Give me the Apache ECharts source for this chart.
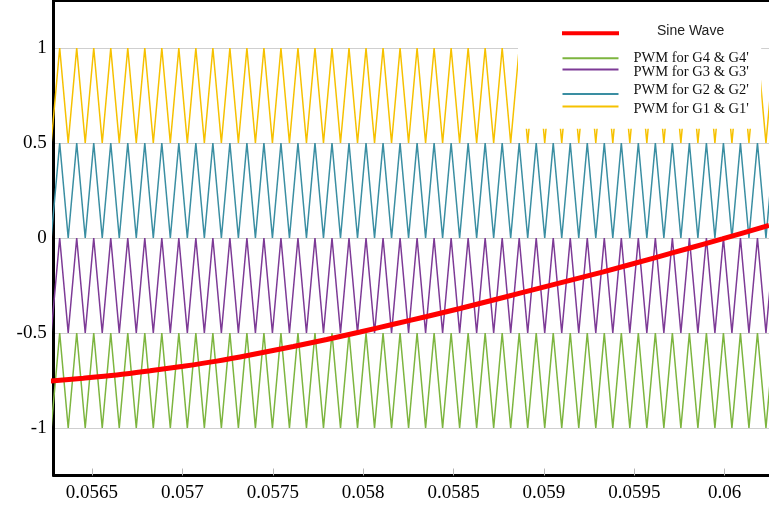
<!DOCTYPE html>
<html>
<head>
<meta charset="utf-8">
<script src="https://cdn.jsdelivr.net/npm/echarts@6/dist/echarts.min.js"></script>
<style>
  html, body { margin: 0; padding: 0; background: #fff; }
  #chart { width: 769px; height: 506px; }
</style>
</head>
<body>
<div id="chart"></div>
<script>
// Time axis window (s)
const timeMin = 0.05628814;
const timeMax = 0.06024489;

// Triangular carrier vertex times (s): even index = trough, odd index = peak
const carrierTimes = [
  0.05627425, 0.05632132, 0.05636839, 0.05641546, 0.05646253, 0.05650960,
  0.05655667, 0.05660374, 0.05665081, 0.05669788, 0.05674495, 0.05679202,
  0.05683909, 0.05688616, 0.05693323, 0.05698030, 0.05702737, 0.05707444,
  0.05712151, 0.05716858, 0.05721565, 0.05726272, 0.05730979, 0.05735686,
  0.05740393, 0.05745100, 0.05749807, 0.05754514, 0.05759221, 0.05763928,
  0.05768635, 0.05773342, 0.05778049, 0.05782756, 0.05787463, 0.05792170,
  0.05796877, 0.05801584, 0.05806291, 0.05810998, 0.05815705, 0.05820412,
  0.05825119, 0.05829826, 0.05834533, 0.05839240, 0.05843947, 0.05848654,
  0.05853361, 0.05858068, 0.05862775, 0.05867482, 0.05872189, 0.05876896,
  0.05881603, 0.05886310, 0.05891017, 0.05895724, 0.05900431, 0.05905138,
  0.05909845, 0.05914552, 0.05919259, 0.05923966, 0.05928673, 0.05933380,
  0.05938087, 0.05942794, 0.05947501, 0.05952208, 0.05956915, 0.05961622,
  0.05966329, 0.05971036, 0.05975743, 0.05980450, 0.05985157, 0.05989864,
  0.05994571, 0.05999278, 0.06003985, 0.06008692, 0.06013399, 0.06018106,
  0.06022813, 0.06027520
];

// Carrier bands (level-shifted, in phase)
const carrierNames = ["PWM for G4 & G4'", "PWM for G3 & G3'", "PWM for G2 & G2'", "PWM for G1 & G1'"];
const bandLow  = [-1, -0.5, 0, 0.5];
const bandHigh = [-0.5, 0, 0.5, 1];
const carrierColors = ['#7db53f', '#7d3a96', '#3a8ea2', '#f6c100'];

// Reference sine wave
const sineName = 'Sine Wave';
const sineTimes = [
  0.0562677, 0.0564519, 0.0566366, 0.0568208, 0.0570050, 0.0571898,
  0.0573740, 0.0576135, 0.0577983, 0.0579825, 0.0581667, 0.0583514,
  0.0585356, 0.0587752, 0.0589599, 0.0591441, 0.0593283,
  0.0596172, 0.0598020, 0.0599862, 0.0602449
];
const sineValues = [
  -0.753, -0.738, -0.721, -0.699, -0.675, -0.648,
  -0.616, -0.571, -0.534, -0.495, -0.454, -0.413,
  -0.371, -0.313, -0.268, -0.223, -0.178,
  -0.103, -0.054, -0.005, 0.066
];

// Axis ticks
const xTickStep = 0.0005;
const yTickValues = [-1, -0.5, 0, 0.5, 1];

const serif = 'Liberation Serif, Times New Roman, serif';
const sans = 'Liberation Sans, Arial, sans-serif';

const carrierSeries = carrierNames.map((name, i) => ({
  name: name,
  type: 'line',
  data: carrierTimes.map((t, j) => [t, j % 2 ? bandHigh[i] : bandLow[i]]),
  showSymbol: false,
  symbol: 'none',
  itemStyle: { color: carrierColors[i] },
  lineStyle: { color: carrierColors[i], width: 1.5 },
  z: 2,
  animation: false
}));

const sineSeries = {
  name: sineName,
  type: 'line',
  data: sineTimes.map((t, j) => [t, sineValues[j]]),
  showSymbol: false,
  symbol: 'none',
  smooth: 0.3,
  itemStyle: { color: '#ff0000' },
  lineStyle: { color: '#ff0000', width: 5 },
  z: 3,
  animation: false
};

// One legend entry per block so each row sits at its own height
function pwmLegend(name, top, textPad) {
  return {
    data: [name],
    left: 562.5,
    top: top,
    padding: 0,
    icon: 'rect',
    itemWidth: 56,
    itemHeight: 2,
    z: 6,
    selectedMode: false,
    formatter: '{t|{name}}',
    textStyle: {
      rich: { t: { fontFamily: serif, fontSize: 14.5, color: '#111', padding: textPad } }
    }
  };
}

const chart = echarts.init(document.getElementById('chart'), null, { renderer: 'canvas' });
chart.setOption({
  backgroundColor: '#fff',
  animation: false,
  grid: { left: 53.7, right: 0, top: 0.5, bottom: 30.5, containLabel: false },
  xAxis: [{
    type: 'value',
    min: timeMin,
    max: timeMax,
    splitNumber: 8,
    axisLine: { onZero: false, lineStyle: { color: '#000', width: 3 } },
    axisTick: { inside: true, length: 7, lineStyle: { color: '#b8b8b8', width: 1 } },
    axisLabel: {
      showMinLabel: false,
      showMaxLabel: false,
      margin: 8,
      fontFamily: serif,
      fontSize: 19,
      color: '#000',
      formatter: v => {
        const k = v / xTickStep;
        return Math.abs(k - Math.round(k)) < 1e-6 ? String(+v.toFixed(4)) : '';
      }
    },
    splitLine: { show: false }
  }, {
    type: 'value',
    position: 'top',
    min: timeMin,
    max: timeMax,
    axisLine: { onZero: false, lineStyle: { color: '#000', width: 3 } },
    axisTick: { show: false },
    axisLabel: { show: false },
    splitLine: { show: false }
  }],
  yAxis: {
    type: 'value',
    min: -1.25,
    max: 1.25,
    splitNumber: 5,
    axisLine: { show: true, onZero: false, lineStyle: { color: '#000', width: 3 } },
    axisTick: { show: false },
    axisLabel: {
      showMinLabel: false,
      showMaxLabel: false,
      margin: 7,
      fontFamily: serif,
      fontSize: 19,
      color: '#000',
      formatter: v => yTickValues.some(y => Math.abs(y - v) < 1e-9) ? String(v) : ''
    },
    splitLine: { show: true, lineStyle: { color: '#cfcfcf', width: 1.2 } }
  },
  legend: [
    {
      data: [sineName],
      left: 518,
      top: 3,
      padding: [20.8, 37, 91, 44],
      backgroundColor: '#fff',
      icon: 'rect',
      itemWidth: 57,
      itemHeight: 4,
      z: 5,
      selectedMode: false,
      formatter: '{s|{name}}',
      textStyle: {
        rich: { s: { fontFamily: sans, fontSize: 14, color: '#222', padding: [0, 0, 5, 33] } }
      }
    },
    pwmLegend(carrierNames[0], 50.8, [0, 0, 0, 10]),
    pwmLegend(carrierNames[1], 64.6, [5, 0, 0, 10]),
    pwmLegend(carrierNames[2], 83, [0, 0, 7, 10]),
    pwmLegend(carrierNames[3], 101.2, [4.6, 0, 0, 10])
  ],
  series: [...carrierSeries, sineSeries]
});
</script>
</body>
</html>
